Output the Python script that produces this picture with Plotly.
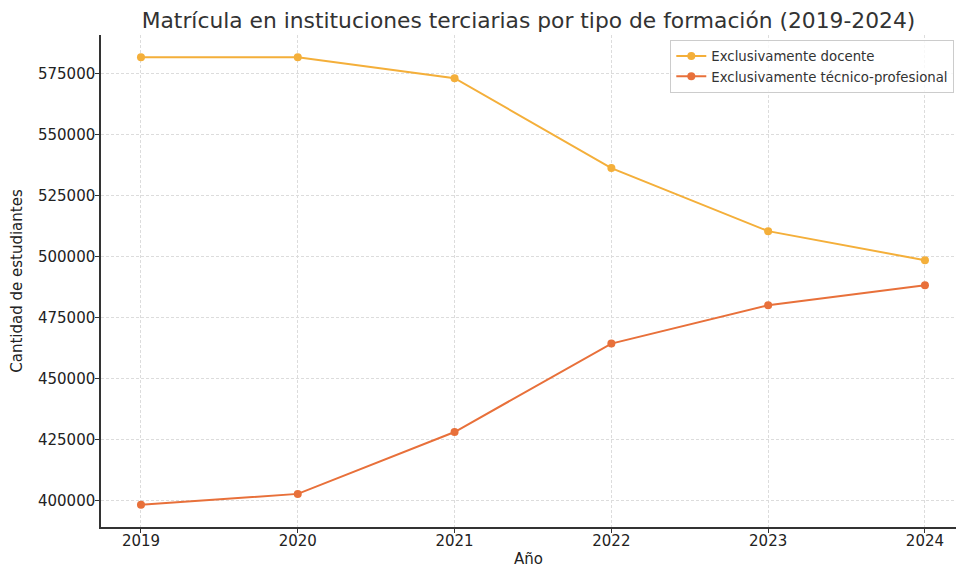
import plotly.graph_objects as go

years = [2019, 2020, 2021, 2022, 2023, 2024]
docente = [581500, 581500, 573000, 536200, 510400, 498500]
tecnico = [398500, 402900, 428200, 464400, 480100, 488300]
y_ticks = [400000, 425000, 450000, 475000, 500000, 525000, 550000, 575000]

c_doc = "#F4AF3A"
c_tec = "#E8703A"

fig = go.Figure()
fig.add_trace(go.Scatter(x=years, y=docente, mode="lines+markers", name="Exclusivamente docente",
                         line=dict(color=c_doc, width=2), marker=dict(size=8, color=c_doc)))
fig.add_trace(go.Scatter(x=years, y=tecnico, mode="lines+markers", name="Exclusivamente técnico-profesional",
                         line=dict(color=c_tec, width=2), marker=dict(size=8, color=c_tec)))

font = "DejaVu Sans"
grid_c = "#dcdcdc"
fig.update_layout(
    width=956, height=568,
    paper_bgcolor="white", plot_bgcolor="white",
    margin=dict(l=101, r=0, t=35, b=41),
    font=dict(family=font, color="#222222", size=14),
    title=dict(text="Matrícula en instituciones terciarias por tipo de formación (2019-2024)",
               x=0.5, xref="paper", y=0.965, yref="container", yanchor="middle",
               font=dict(family=font, size=21.8, color="#333333")),
    showlegend=True,
    legend=dict(x=0.998, y=0.99, xanchor="right", yanchor="top",
                bgcolor="rgba(255,255,255,0.8)", bordercolor="#cccccc", borderwidth=1,
                font=dict(family=font, size=13.3, color="#333333"),
                itemwidth=30, tracegroupgap=0),
    xaxis=dict(range=[2018.745, 2024.198], tickvals=years, ticktext=[str(y) for y in years],
               showgrid=True, gridcolor=grid_c, griddash="3px,2px", gridwidth=1,
               showline=True, linecolor="#333333", linewidth=1.5,
               ticks="outside", ticklen=4, tickcolor="#333333", ticklabelstandoff=-5,
               tickfont=dict(size=15, color="#222222"), zeroline=False,
               title=dict(text="Año", font=dict(size=15, color="#222222"), standoff=7)),
    yaxis=dict(range=[389350, 590650], tickvals=y_ticks, ticktext=[str(v) for v in y_ticks],
               showgrid=True, gridcolor=grid_c, griddash="3px,2px", gridwidth=1,
               showline=True, linecolor="#333333", linewidth=1.5,
               ticks="outside", ticklen=4, tickcolor="#333333", ticklabelstandoff=-3,
               tickfont=dict(size=15, color="#222222"), zeroline=False,
               title=dict(text="Cantidad de estudiantes", font=dict(size=15, color="#222222"), standoff=12)),
)

fig.write_html("out.html", config={"displayModeBar": False},
               post_script="document.body.style.margin='0';document.body.style.padding='0';document.body.style.overflow='hidden';")
